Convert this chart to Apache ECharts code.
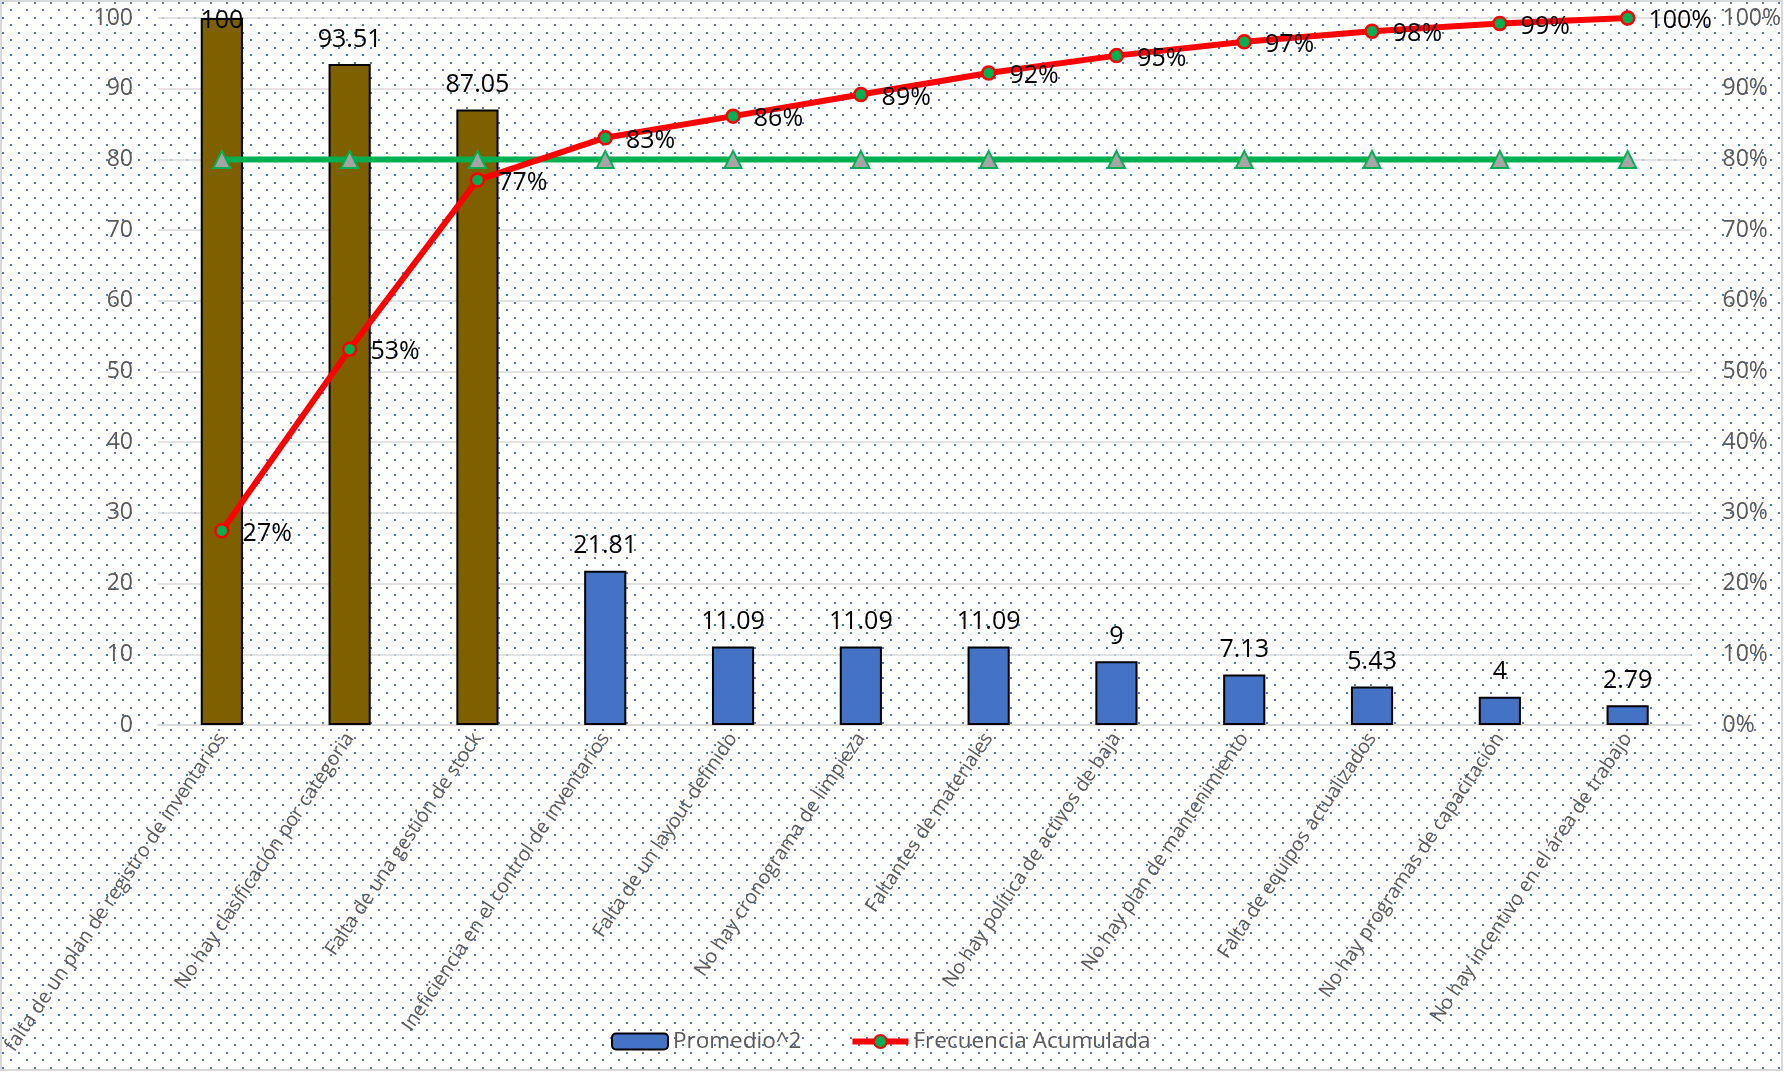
<!DOCTYPE html>
<html>
<head>
<meta charset="utf-8">
<script src="https://cdn.jsdelivr.net/npm/echarts@6/dist/echarts.min.js"></script>
<style>
html,body{margin:0;padding:0;background:#fff;}
#chart{width:1784px;height:1072px;}
</style>
</head>
<body>
<div id="chart"></div>
<script>
const categories = [
  'falta de un plan de registro de inventarios',
  'No hay clasificación por categoria',
  'Falta de una gestión de stock',
  'Ineficiencia en el control de inventarios',
  'Falta de un layout definido',
  'No hay cronograma de limpieza',
  'Faltantes de materiales',
  'No hay política de activos de baja',
  'No hay plan de mantenimiento',
  'Falta de equipos actualizados',
  'No hay programas de capacitación',
  'No hay incentivo en el área de trabajo'
];
const promedio2 = [100, 93.51, 87.05, 21.81, 11.09, 11.09, 11.09, 9, 7.13, 5.43, 4, 2.79];
const acumulada = [0.2747, 0.5316, 0.7708, 0.8307, 0.8612, 0.8917, 0.9221, 0.9468, 0.9664, 0.9813, 0.9923, 1.0];
const meta = [0.8, 0.8, 0.8, 0.8, 0.8, 0.8, 0.8, 0.8, 0.8, 0.8, 0.8, 0.8];
const brownCount = 3;

const FONT = 'Open Sans';
const GRAY = '#595959';

// dotted background tile
const tile = document.createElement('canvas');
tile.width = 16; tile.height = 15;
const tctx = tile.getContext('2d');
tctx.fillStyle = '#ffffff';
tctx.fillRect(0, 0, 16, 15);
tctx.fillStyle = '#4A78C8';
tctx.fillRect(2, 2, 2, 2);
tctx.fillRect(10, 9, 2, 2);

const barData = promedio2.map((v, i) => {
  const d = { value: v };
  if (i < brownCount) d.itemStyle = { color: '#7F6000' };
  if (i === 0) d.label = { offset: [0, 27] };
  return d;
});

const chart = echarts.init(document.getElementById('chart'), null, { renderer: 'canvas' });
chart.setOption({
  backgroundColor: { image: tile, repeat: 'repeat' },
  animation: false,
  textStyle: { fontFamily: FONT },
  grid: { left: 157, right: 87, top: 18, bottom: 347, containLabel: false },
  legend: {
    data: [
      { name: 'Promedio^2' },
      { name: 'Frecuencia Acumulada', lineStyle: { width: 6 } }
    ],
    left: 606, top: 1025,
    itemGap: 48,
    textStyle: { fontFamily: FONT, fontSize: 22.5, color: GRAY },
    itemWidth: 56, itemHeight: 16
  },
  graphic: [{
    type: 'rect', shape: { x: 1, y: 1, width: 1781, height: 1069 },
    style: { fill: null, stroke: '#D9D9D9', lineWidth: 2 }, silent: true, z: 100
  }],
  xAxis: {
    type: 'category',
    data: categories,
    axisTick: { show: false },
    axisLine: { lineStyle: { color: '#D9D9D9', width: 1.5 } },
    axisLabel: { rotate: 56, interval: 0, margin: 10, color: GRAY, fontFamily: FONT, fontSize: 19.5 }
  },
  yAxis: [{
    type: 'value', min: 0, max: 100, interval: 10,
    axisLine: { show: false }, axisTick: { show: false },
    splitLine: { lineStyle: { color: '#D9D9D9', width: 1.5 } },
    axisLabel: { margin: 25, color: GRAY, fontFamily: FONT, fontSize: 23 }
  }, {
    type: 'value', min: 0, max: 1, interval: 0.1,
    axisLine: { show: false }, axisTick: { show: false },
    splitLine: { show: false },
    axisLabel: { margin: 31, color: GRAY, fontFamily: FONT, fontSize: 23,
      formatter: v => Math.round(v * 100) + '%' }
  }],
  series: [{
    name: 'Promedio^2', type: 'bar', yAxisIndex: 0,
    data: barData, barWidth: '33%',
    itemStyle: { color: '#4472C4', borderColor: '#000', borderWidth: 2 },
    label: { show: true, position: 'top', distance: 12, color: '#000', fontFamily: FONT, fontSize: 25 },
    z: 2
  }, {
    name: '80%', type: 'line', yAxisIndex: 1, data: meta,
    lineStyle: { color: '#00B050', width: 6 },
    symbol: 'triangle', symbolSize: 17,
    itemStyle: { color: '#A5A5A5', borderColor: '#00B050', borderWidth: 2 },
    z: 3
  }, {
    name: 'Frecuencia Acumulada', type: 'line', yAxisIndex: 1, data: acumulada,
    lineStyle: { color: '#FF0000', width: 6 },
    symbol: 'circle', symbolSize: 13,
    itemStyle: { color: '#00B050', borderColor: '#FF0000', borderWidth: 2.5 },
    label: { show: true, position: 'right', distance: 13, offset: [0, 3], color: '#000', fontFamily: FONT, fontSize: 25,
      formatter: p => Math.round(p.value * 100) + '%' },
    z: 4
  }]
});
</script>
</body>
</html>
